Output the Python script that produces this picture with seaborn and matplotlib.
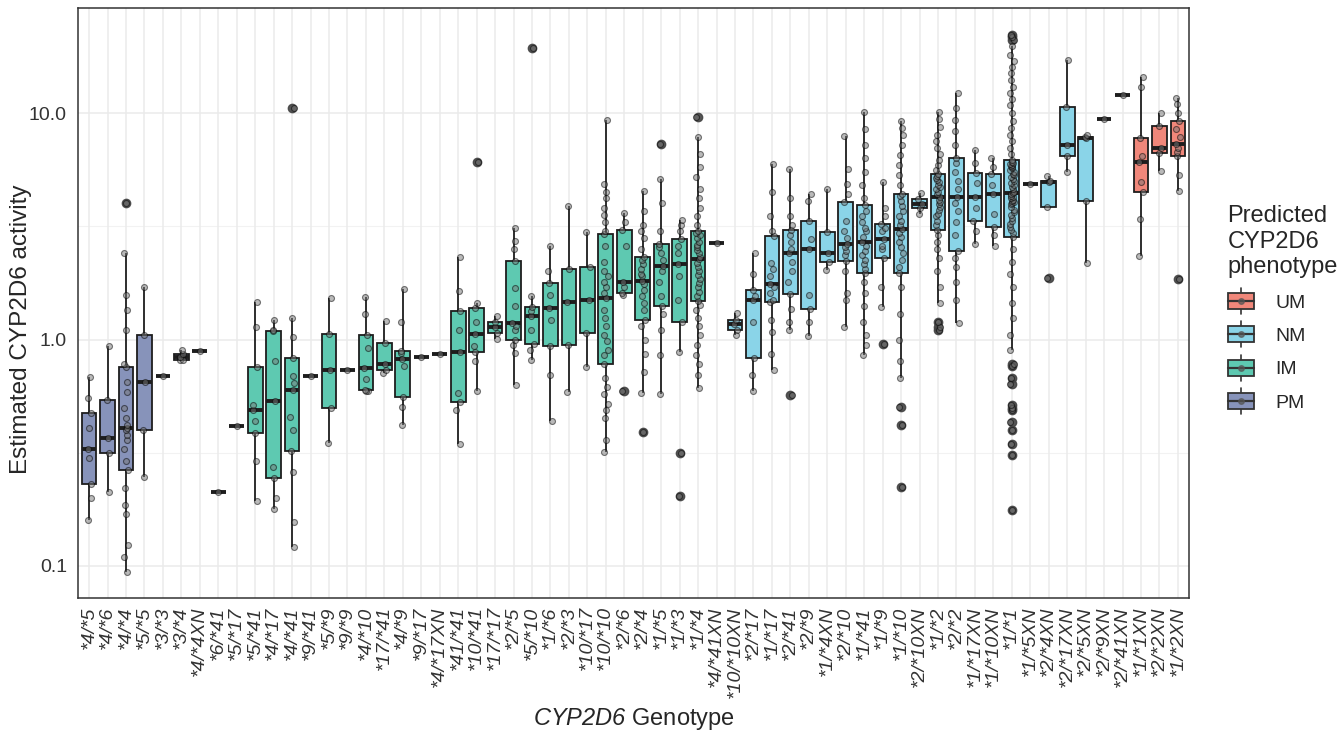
import numpy as np
import pandas as pd
import matplotlib
matplotlib.use("Agg")
import matplotlib.pyplot as plt
from matplotlib.ticker import FixedLocator, FixedFormatter, LogLocator, NullFormatter
from matplotlib.legend_handler import HandlerBase
from matplotlib.patches import Rectangle
from matplotlib.lines import Line2D
import seaborn as sns

# genotype categories, left to right
genotypes = ["*4/*5", "*4/*6", "*4/*4", "*5/*5", "*3/*3", "*3/*4", "*4/*4XN",
             "*6/*41", "*5/*17", "*5/*41", "*4/*17", "*4/*41", "*9/*41", "*5/*9",
             "*9/*9", "*4/*10", "*17/*41", "*4/*9", "*9/*17", "*4/*17XN", "*41/*41",
             "*10/*41", "*17/*17", "*2/*5", "*5/*10", "*1/*6", "*2/*3", "*10/*17",
             "*10/*10", "*2/*6", "*2/*4", "*1/*5", "*1/*3", "*1/*4", "*4/*41XN",
             "*10/*10XN", "*2/*17", "*1/*17", "*2/*41", "*2/*9", "*1/*4XN", "*2/*10",
             "*1/*41", "*1/*9", "*1/*10", "*2/*10XN", "*1/*2", "*2/*2", "*1/*17XN",
             "*1/*10XN", "*1/*1", "*1/*5XN", "*2/*4XN", "*2/*17XN", "*2/*5XN",
             "*2/*9XN", "*2/*41XN", "*1/*1XN", "*2/*2XN", "*1/*2XN"]

phenotypes = ["PM"] * 7 + ["IM"] * 28 + ["NM"] * 22 + ["UM"] * 3

# estimated activity per genotype
activity = [
    [0.16, 0.20, 0.23, 0.30, 0.33, 0.405, 0.475, 0.55, 0.68],
    [0.213, 0.316, 0.366, 0.538, 0.94],
    [0.094, 0.11, 0.124, 0.17, 0.186, 0.22, 0.265, 0.29, 0.33, 0.36, 0.38, 0.40, 0.405,
     0.42, 0.45, 0.50, 0.585, 0.65, 0.755, 0.78, 1.1, 1.35, 1.57, 2.4, 4.0],
    [0.248, 0.40, 0.65, 1.05, 1.71],
    [0.687],
    [0.81, 0.816, 0.835, 0.86, 0.90],
    [0.888],
    [0.213],
    [0.413],
    [0.194, 0.29, 0.387, 0.436, 0.49, 0.513, 0.755, 1.14, 1.47],
    [0.179, 0.20, 0.245, 0.273, 0.534, 0.80, 1.09, 1.1, 1.22],
    [0.121, 0.156, 0.26, 0.321, 0.40, 0.454, 0.60, 0.644, 0.69, 0.83, 1.03, 1.24, 10.5],
    [0.689],
    [0.35, 0.50, 0.732, 1.056, 1.53],
    [0.732],
    [0.59, 0.595, 0.60, 0.67, 0.747, 0.92, 1.045, 1.3, 1.54],
    [0.713, 0.737, 0.776, 0.97, 1.21],
    [0.418, 0.506, 0.556, 0.762, 0.824, 0.87, 0.894, 1.2, 1.67],
    [0.835],
    [0.867],
    [0.347, 0.49, 0.531, 0.58, 0.879, 1.10, 1.33, 1.63, 2.32],
    [0.593, 0.80, 0.88, 0.934, 1.06, 1.19, 1.38, 1.45, 6.1],
    [1.01, 1.07, 1.13, 1.19, 1.27],
    [0.627, 0.874, 0.95, 1.0, 1.107, 1.15, 1.185, 1.4, 1.69, 2.23, 2.5, 2.72, 3.11],
    [0.81, 0.9, 0.957, 1.1, 1.27, 1.33, 1.39, 1.55, 19.4],
    [0.436, 0.7, 0.94, 1.22, 1.38, 1.57, 1.77, 2.0, 2.58],
    [0.588, 0.944, 1.47, 2.04, 3.88],
    [0.755, 1.063, 1.50, 2.09, 2.98],
    [0.318, 0.359, 0.45, 0.49, 0.52, 0.572, 0.62, 0.677, 0.78, 0.85, 0.90, 0.98, 1.05,
     1.15, 1.25, 1.35, 1.53, 1.6, 1.7, 1.8, 1.9, 2.0, 2.2, 2.6, 2.91, 3.0, 3.3, 3.56,
     3.8, 4.2, 4.5, 4.88, 9.3],
    [0.595, 1.58, 1.60, 1.7, 1.80, 2.6, 3.05, 3.3, 3.63],
    [0.391, 0.58, 0.72, 0.86, 1.0, 1.15, 1.225, 1.35, 1.45, 1.55, 1.65, 1.75, 1.81,
     1.9, 1.95, 2.05, 2.15, 2.25, 2.32, 2.5, 2.8, 3.0, 3.2, 3.7, 4.52],
    [0.572, 0.85, 1.1, 1.3, 1.40, 1.55, 1.8, 2.0, 2.12, 2.25, 2.4, 2.55, 2.63, 3.0,
     4.0, 5.12, 7.31],
    [0.203, 0.316, 0.88, 1.197, 1.5, 1.9, 2.16, 2.4, 2.6, 2.78, 3.0, 3.2, 3.36],
    [0.612, 0.70, 0.78, 0.85, 0.95, 1.05, 1.15, 1.25, 1.35, 1.42, 1.486, 1.55, 1.62,
     1.70, 1.78, 1.85, 1.92, 2.0, 2.1, 2.18, 2.26, 2.32, 2.4, 2.48, 2.55, 2.62, 2.7,
     2.8, 2.88, 2.95, 3.01, 3.2, 3.5, 3.8, 4.2, 4.6, 5.2, 5.8, 6.6, 7.85, 9.58],
    [2.67],
    [1.045, 1.096, 1.165, 1.217, 1.31],
    [0.591, 0.7, 0.83, 1.2, 1.50, 1.55, 1.66, 1.95, 2.41],
    [0.73, 0.859, 1.077, 1.225, 1.47, 1.5, 1.6, 1.7, 1.76, 1.9, 2.05, 2.17, 2.86, 3.0,
     3.5, 4.47, 5.97],
    [0.566, 1.10, 1.2, 1.36, 1.59, 1.8, 2.0, 2.2, 2.40, 2.5, 2.7, 2.9, 3.06, 3.2, 3.5,
     4.2, 5.67],
    [1.04, 1.2, 1.366, 1.57, 2.52, 2.79, 3.35, 4.1, 4.37],
    [2.02, 2.19, 2.41, 2.98, 4.6],
    [1.14, 1.50, 1.61, 2.0, 2.23, 2.35, 2.45, 2.55, 2.65, 2.8, 3.0, 3.33, 4.04, 4.4,
     4.88, 5.67, 7.9],
    [0.85, 0.95, 1.05, 1.2, 1.4, 1.6, 1.8, 1.97, 2.05, 2.15, 2.25, 2.35, 2.45, 2.58,
     2.70, 2.85, 3.0, 3.1, 3.3, 3.5, 3.7, 3.91, 4.2, 4.8, 5.5, 6.3, 7.2, 8.5, 10.1],
    [0.957, 1.39, 1.70, 2.29, 2.5, 2.6, 2.79, 3.0, 3.1, 3.24, 3.5, 3.8, 4.97],
    [0.223, 0.418, 0.506, 0.673, 0.80, 1.0, 1.3, 1.7, 1.97, 2.1, 2.25, 2.4, 2.55, 2.7,
     2.85, 2.95, 3.08, 3.2, 3.35, 3.5, 3.7, 3.9, 4.1, 4.3, 4.41, 4.8, 5.3, 5.9, 6.5,
     7.2, 8.0, 8.6, 9.2],
    [3.6, 3.79, 3.98, 4.18, 4.44],
    [1.10, 1.13, 1.20, 1.45, 1.7, 2.0, 2.3, 2.5, 2.7, 2.9, 3.03, 3.2, 3.35, 3.5, 3.6,
     3.75, 3.85, 3.95, 4.05, 4.15, 4.27, 4.4, 4.5, 4.6, 4.7, 4.8, 4.95, 5.05, 5.15,
     5.25, 5.39, 5.6, 5.9, 6.2, 6.6, 7.0, 7.5, 8.0, 8.7, 9.4, 10.1],
    [1.18, 1.5, 1.8, 2.1, 2.3, 2.45, 2.9, 3.3, 3.7, 4.0, 4.27, 4.6, 5.0, 5.5, 6.0,
     6.34, 7.2, 8.3, 9.3, 10.5, 12.2],
    [2.65, 3.0, 3.35, 3.8, 4.27, 4.9, 5.44, 6.0, 6.9],
    [2.58, 2.9, 3.13, 3.6, 4.40, 4.8, 5.39, 5.8, 6.3],
    [0.176, 0.308, 0.347, 0.40, 0.433, 0.49, 0.50, 0.516, 0.633, 0.677, 0.76, 0.776,
     0.903, 1.05, 1.25, 1.45, 1.7, 1.95, 2.2, 2.5, 2.84, 2.95, 3.05, 3.15, 3.25, 3.35,
     3.45, 3.55, 3.65, 3.75, 3.85, 3.95, 4.0, 4.05, 4.1, 4.15, 4.2, 4.25, 4.3, 4.38,
     4.44, 4.5, 4.6, 4.7, 4.8, 4.9, 5.0, 5.1, 5.2, 5.3, 5.4, 5.5, 5.6, 5.7, 5.8, 5.85,
     5.9, 5.95, 6.0, 6.1, 6.2, 6.6, 7.0, 7.5, 8.0, 8.6, 9.2, 10.0, 10.8, 11.5, 12.3,
     13.0, 14.0, 15.0, 16.0, 17.0, 18.0, 19.7, 21.0, 21.6, 22.1],
    [4.88],
    [1.86, 3.84, 4.97, 5.03, 5.26],
    [5.48, 6.45, 7.26, 10.65, 17.1],
    [2.17, 4.08, 7.72, 7.85, 8.04],
    [9.46],
    [12.07],
    [2.33, 3.39, 4.49, 4.95, 6.06, 6.49, 7.72, 13.0, 14.5],
    [5.57, 6.63, 7.02, 8.75, 10.0],
    [1.85, 4.52, 5.3, 6.45, 6.7, 7.0, 7.31, 7.8, 8.5, 9.2, 10.0, 11.0, 11.67],
]

pheno_order = ["UM", "NM", "IM", "PM"]
pheno_colors = {"UM": "#F0877A", "NM": "#8AD4E8", "IM": "#5EC9B1", "PM": "#8793BA"}
minor_grid = [0.316, 3.16]
mid_ticks = [0.5, 5.0]


class BoxKey(HandlerBase):
    # legend key drawn like a little boxplot (whisker, box, median, point)
    def create_artists(self, legend, orig_handle, xdescent, ydescent, width, height,
                       fontsize, trans):
        x0, y0 = -xdescent, -ydescent
        cx, cy = x0 + width / 2, y0 + height / 2
        whisk = Line2D([cx, cx], [y0 - 0.3 * height, y0 + 1.3 * height],
                       color="#333333", lw=1.2, transform=trans)
        box = Rectangle((x0, y0), width, height, facecolor=orig_handle.get_facecolor(),
                        edgecolor="#333333", lw=1.3, transform=trans)
        med = Line2D([x0, x0 + width], [cy, cy], color="#333333", lw=1.6, transform=trans)
        dot = Line2D([cx], [cy], marker="o", markersize=4, color="#555555", alpha=0.7,
                     linestyle="none", transform=trans)
        return [whisk, box, med, dot]


rows = []
for g, p, vals in zip(genotypes, phenotypes, activity):
    for v in vals:
        rows.append((g, p, v))
df = pd.DataFrame(rows, columns=["genotype", "phenotype", "activity"])

sns.set_style("white")
plt.rcParams["font.family"] = ["Liberation Sans", "DejaVu Sans"]
# only the x title uses mathtext; make all of it italic (digits included)
plt.rcParams["mathtext.fontset"] = "custom"
plt.rcParams["mathtext.rm"] = "Liberation Sans:italic"
plt.rcParams["mathtext.it"] = "Liberation Sans:italic"

fig = plt.figure(figsize=(13.43, 7.31), dpi=100)
ax = fig.add_axes([0.05808, 0.18194, 0.82725, 0.80712])

sns.boxplot(data=df, x="genotype", y="activity", hue="phenotype",
            order=genotypes, hue_order=pheno_order, palette=pheno_colors,
            dodge=False, width=0.8, saturation=1, log_scale=True,
            linecolor="#1e1e1e", linewidth=1.3, showcaps=False,
            flierprops=dict(marker="o", markersize=6, markerfacecolor="#444444",
                            markeredgecolor="#444444", alpha=0.9),
            medianprops=dict(linewidth=2.8, color="#1e1e1e"),
            ax=ax)

sns.stripplot(data=df, x="genotype", y="activity", order=genotypes,
              color="#777777", edgecolor="#000000", linewidth=0.8, alpha=0.5,
              size=4.3, jitter=0.12, ax=ax, zorder=4)

ax.set_xlim(-0.6, 59.6)
ax.set_ylim(0.0722, 29.1)

ax.yaxis.set_major_locator(FixedLocator([0.1, 1, 10]))
ax.yaxis.set_major_formatter(FixedFormatter(["0.1", "1.0", "10.0"]))
ax.yaxis.set_minor_locator(LogLocator(base=10, subs=np.arange(2, 10), numticks=20))
ax.yaxis.set_minor_formatter(NullFormatter())
ax.tick_params(axis="y", which="major", direction="in", length=11.5, width=0.9,
               color="#333333", pad=8, labelsize=14, labelcolor="#333333")
ax.tick_params(axis="y", which="minor", direction="in", length=4, width=0.8,
               color="#333333")
ax.tick_params(axis="x", which="major", direction="out", length=4, width=0.9,
               color="#333333", pad=2, labelsize=14, labelcolor="#333333")
plt.setp(ax.get_xticklabels(), rotation=90, fontstyle="italic", ha="center", va="top")

ax.set_axisbelow(True)
ax.grid(axis="x", color="#EBEBEB", linewidth=1.1)
ax.grid(axis="y", which="major", color="#EBEBEB", linewidth=1.1)
for yv in minor_grid:
    ax.axhline(yv, color="#F2F2F2", linewidth=0.8, zorder=0)

for side in ["left", "right", "top", "bottom"]:
    ax.spines[side].set_visible(True)
    ax.spines[side].set_color("#333333")
    ax.spines[side].set_linewidth(1.1)

ax.set_xlabel(r"$CYP2D6$ Genotype", fontsize=17, labelpad=6)
ax.set_ylabel("Estimated CYP2D6 activity", fontsize=17.5)
ax.yaxis.set_label_coords(-0.041, 0.455)

# rebuild the legend with boxplot-like keys
old = ax.get_legend()
handles = old.legend_handles
labels = [t.get_text() for t in old.get_texts()]
old.remove()
leg = ax.legend(handles, labels, loc="upper left",
                bbox_to_anchor=(1210 / 1343, 1 - 188 / 731),
                bbox_transform=fig.transFigure, frameon=False,
                title="Predicted\nCYP2D6\nphenotype", title_fontsize=17, fontsize=14,
                handlelength=1.35, handleheight=0.9, labelspacing=0.75,
                handletextpad=1.1, handler_map={type(handles[0]): BoxKey()})
leg._legend_box.align = "left"

# longer log ticks at the 5s
fig.canvas.draw()
for tick in ax.yaxis.get_minor_ticks():
    if any(abs(tick.get_loc() - m) < 1e-6 for m in mid_ticks):
        tick.tick1line.set_markersize(8)

fig.savefig("out.png", dpi=100)
